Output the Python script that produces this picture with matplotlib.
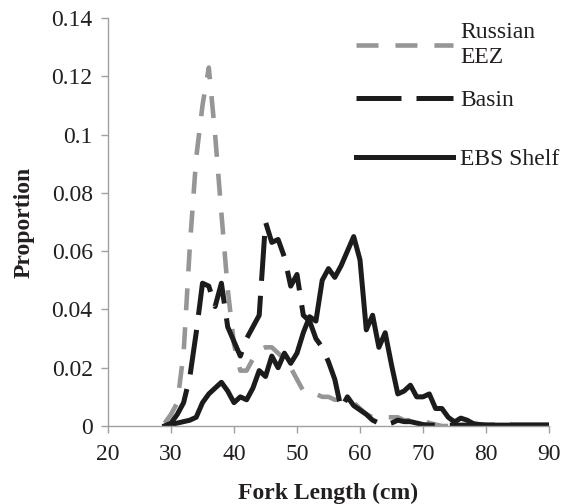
import matplotlib
matplotlib.use("Agg")
import matplotlib.pyplot as plt
from matplotlib.legend import Legend

# ---- data ----
fork_length = list(range(29, 91))

russian_eez = [0.001, 0.004, 0.008, 0.025, 0.062, 0.092, 0.110, 0.123, 0.100, 0.073,
               0.047, 0.028, 0.019, 0.019, 0.023, 0.026, 0.027, 0.027, 0.025, 0.023,
               0.020, 0.016, 0.012, 0.011, 0.011, 0.010, 0.010, 0.009, 0.009, 0.009,
               0.008, 0.006, 0.004, 0.003, 0.003, 0.003, 0.003, 0.003, 0.002, 0.002,
               0.002, 0.002, 0.001, 0.0005, 0, 0, 0, 0, 0, 0,
               0, 0, 0, 0, 0, 0, 0, 0, 0, 0,
               0, 0]

basin = [0, 0.001, 0.004, 0.008, 0.017, 0.032, 0.049, 0.048, 0.041, 0.049,
         0.034, 0.029, 0.024, 0.030, 0.034, 0.038, 0.070, 0.063, 0.064, 0.058,
         0.048, 0.052, 0.038, 0.036, 0.030, 0.027, 0.022, 0.016, 0.006, 0.010,
         0.007, 0.0055, 0.004, 0.002, 0.001, 0.0003, 0.001, 0.002, 0.0015, 0.0015,
         0.001, 0.0005, 0.0003, 0.0003, 0.0003, 0.0003, 0.0003, 0.0003, 0.0003, 0.0003,
         0.0003, 0.0003, 0.0003, 0.0003, 0.0003, 0.0003, 0.0003, 0.0003, 0.0003, 0.0003,
         0.0003, 0.0003]

ebs_shelf = [0, 0.0005, 0.001, 0.0015, 0.002, 0.003, 0.008, 0.011, 0.013, 0.015,
             0.012, 0.008, 0.010, 0.009, 0.013, 0.019, 0.017, 0.024, 0.020, 0.025,
             0.0215, 0.025, 0.032, 0.0375, 0.036, 0.050, 0.054, 0.051, 0.055, 0.060,
             0.065, 0.057, 0.033, 0.038, 0.027, 0.032, 0.021, 0.011, 0.012, 0.014,
             0.010, 0.010, 0.011, 0.006, 0.006, 0.003, 0.0014, 0.0027, 0.002, 0.0008,
             0.0005, 0.0003, 0.0003, 0.0003, 0.0003, 0.0003, 0.0003, 0.0003, 0.0003, 0.0003,
             0.0003, 0.0003]

series_labels = ["Russian\nEEZ", "Basin", "EBS Shelf"]
x_ticks = [20, 30, 40, 50, 60, 70, 80, 90]
y_ticks = [0, 0.02, 0.04, 0.06, 0.08, 0.10, 0.12, 0.14]
y_tick_labels = ["0", "0.02", "0.04", "0.06", "0.08", "0.1", "0.12", "0.14"]

# ---- style ----
plt.rcParams['font.family'] = ['Liberation Serif', 'DejaVu Serif']
FS = 17
TXT = '#231f20'
AX = '#a0a0a0'

fig = plt.figure(figsize=(5.70, 5.04), dpi=100)
ax = fig.add_axes([108 / 570, 1 - 426 / 504, 441 / 570, 408 / 504])

l1, = ax.plot(fork_length, russian_eez, color='#969696', lw=3.3, linestyle=(0, (4.8, 3.7)),
              dash_capstyle='butt', solid_joinstyle='round', label=series_labels[0])
l2, = ax.plot(fork_length, basin, color='#1c1c1c', lw=3.6, linestyle=(0, (9.0, 3.0)),
              dash_capstyle='butt', solid_joinstyle='round', label=series_labels[1])
l3, = ax.plot(fork_length, ebs_shelf, color='#1c1c1c', lw=3.6, linestyle='-',
              solid_joinstyle='round', label=series_labels[2])

ax.set_xlim(20, 90)
ax.set_ylim(0, 0.14)
ax.set_xticks(x_ticks)
ax.set_yticks(y_ticks)
ax.set_yticklabels(y_tick_labels)

for s in ['top', 'right']:
    ax.spines[s].set_visible(False)
for s in ['left', 'bottom']:
    ax.spines[s].set_color(AX)
    ax.spines[s].set_linewidth(1.0)
ax.tick_params(axis='both', direction='out', length=5, width=1.0, color=AX,
               labelsize=FS, labelcolor=TXT)
ax.tick_params(axis='x', pad=8)
ax.tick_params(axis='y', pad=6)

ax.set_xlabel("Fork Length (cm)", fontsize=FS, fontweight='bold', color=TXT, labelpad=13)
ax.set_ylabel("Proportion", fontsize=FS, fontweight='bold', color=TXT, labelpad=12)

# legend entries placed individually (centres at pixel rows 45, 100, 159)
x_leg = (356 - 108) / 441
for handle, label, ypx in zip([l1, l2, l3], series_labels, [45, 100, 159]):
    lg = Legend(ax, [handle], [label], loc='center left',
                bbox_to_anchor=(x_leg, (426 - ypx) / 408),
                frameon=False, fontsize=FS, handlelength=4.1, handletextpad=0.3,
                borderpad=0, borderaxespad=0)
    for t in lg.get_texts():
        t.set_color(TXT)
        t.set_linespacing(1.25)
    ax.add_artist(lg)

fig.savefig("out.png", dpi=100)
